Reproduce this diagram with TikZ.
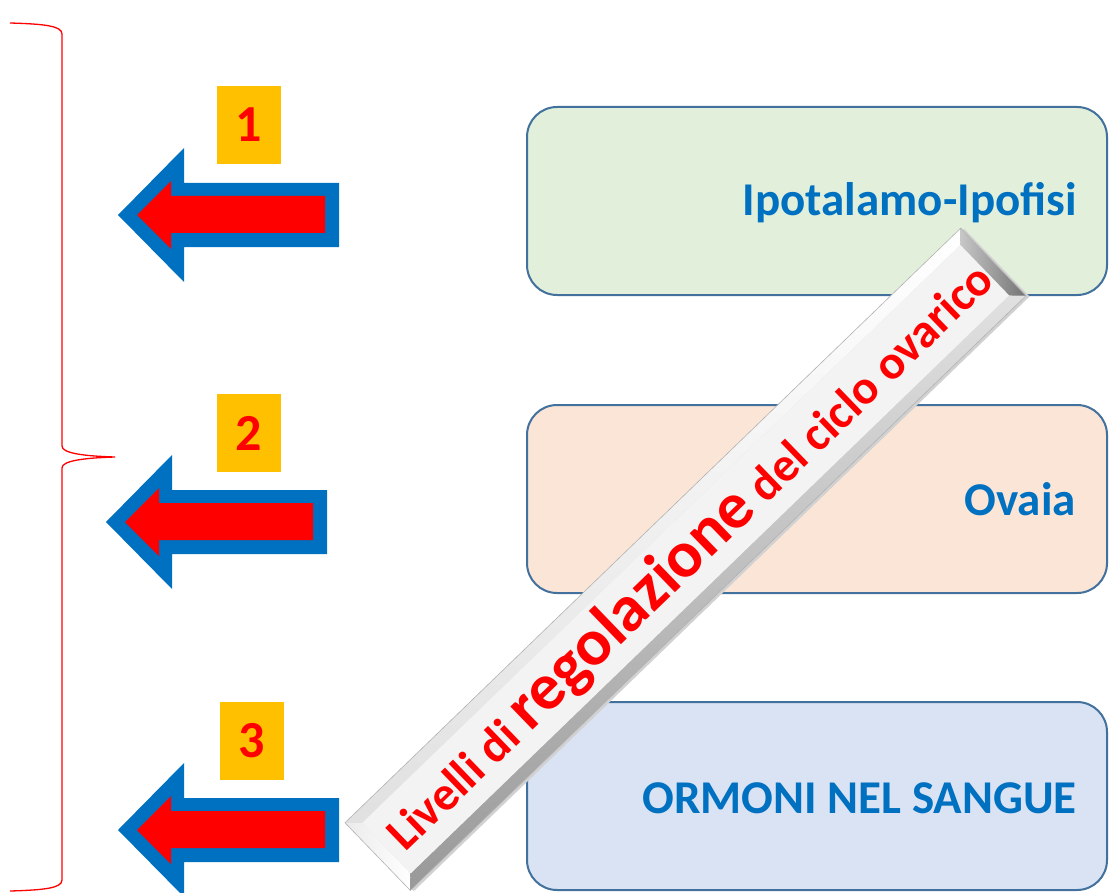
\documentclass[tikz,border=0pt]{standalone}
\usepackage{fontspec}
\setmainfont{Carlito}
\definecolor{arrowblue}{HTML}{0070C0}
\definecolor{arrowred}{HTML}{FF0000}
\definecolor{numbg}{HTML}{FFC000}
\definecolor{boxline}{HTML}{41719C}
\definecolor{greenfill}{HTML}{E2EFDA}
\definecolor{orangefill}{HTML}{FBE5D6}
\definecolor{bluefill}{HTML}{DAE3F3}
\definecolor{textblue}{HTML}{0070C0}
\definecolor{faceg}{HTML}{F3F3F3}
\begin{document}
\begin{tikzpicture}[x=1pt,y=-1pt,
  levelbox/.style={draw=boxline, line width=2pt, rounded corners=30pt,
    minimum width=580pt, minimum height=188pt, inner sep=0pt},
  boxlabel/.style={font=\bfseries\fontsize{47}{56}\selectfont, text=textblue,
    anchor=base east, inner sep=0pt},
  numbox/.style={fill=numbg, minimum width=64pt, minimum height=78pt, inner sep=0pt,
    font=\bfseries\fontsize{52}{60}\selectfont, text=arrowred},
  bracestyle/.style={draw=arrowred, line width=1.3pt},
  pics/bigarrow/.style={code={
    \fill[arrowblue] (0,0) -- (66,-67) -- (66,-32) -- (221,-32) -- (221,32) -- (66,32) -- (66,67) -- cycle;
    \fill[arrowred] (19,0) -- (53,-34) -- (53,-19) -- (207,-19) -- (207,18) -- (53,18) -- (53,34) -- cycle;
  }}
]
\useasboundingbox (0,0) rectangle (1115,893);
\fill[white] (0,0) rectangle (1115,893);

% brace
\draw[bracestyle] (10,23) .. controls (45,24) and (62,26) .. (62,34) -- (62,446)
  .. controls (62,453) and (82,456) .. (115,457)
  .. controls (82,458) and (62,461) .. (62,468) -- (62,880)
  .. controls (62,888) and (45,890) .. (10,891);

% level boxes
\node[levelbox, fill=greenfill] (b1) at (817,201) {};
\node[levelbox, fill=orangefill] (b2) at (817,499) {};
\node[levelbox, fill=bluefill] (b3) at (817,796) {};
\node[boxlabel] (t1) at (1077,216) {Ipotalamo-Ipofisi};
\node[boxlabel] (t2) at (1076,515) {Ovaia};
\node[boxlabel] (t3) at (1077,813) {ORMONI NEL SANGUE};

% arrows
\pic at (118,215) {bigarrow};
\pic at (106,522) {bigarrow};
\pic at (118,830) {bigarrow};

% number squares
\node[numbox] (n1) at (249,125) {1};
\node[numbox] (n2) at (249,433) {2};
\node[numbox] (n3) at (252,741) {3};

% banner
\begin{scope}[shift={(685.5,559.25)}, rotate=44]
  \fill[black!18] (-428pt+2pt,-47pt-3pt) rectangle (428pt+2pt,47pt-3pt);
  \shade[top color=white, bottom color=black!12] (-428pt,47pt) -- (428pt,47pt) -- (416pt,35pt) -- (-416pt,35pt) -- cycle;
  \shade[top color=black!12, bottom color=black!40] (-428pt,-47pt) -- (428pt,-47pt) -- (416pt,-35pt) -- (-416pt,-35pt) -- cycle;
  \shade[left color=black!22, right color=black!55] (428pt,47pt) -- (428pt,-47pt) -- (416pt,-35pt) -- (416pt,35pt) -- cycle;
  \shade[left color=black!8, right color=white] (-428pt,47pt) -- (-428pt,-47pt) -- (-416pt,-35pt) -- (-416pt,35pt) -- cycle;
  \fill[faceg] (-416pt,-35pt) rectangle (416pt,35pt);
  \draw[black!30, line width=0.6pt] (-428pt,-47pt) rectangle (428pt,47pt);
  \node[transform shape, anchor=base, inner sep=0pt, text=arrowred, font=\bfseries] (bannertext) at (5pt,-17pt)
    {\fontsize{48}{50}\selectfont Livelli di \fontsize{66}{70}\selectfont regolazione\fontsize{48}{50}\selectfont{} del ciclo ovarico};
\end{scope}
\end{tikzpicture}
\end{document}
